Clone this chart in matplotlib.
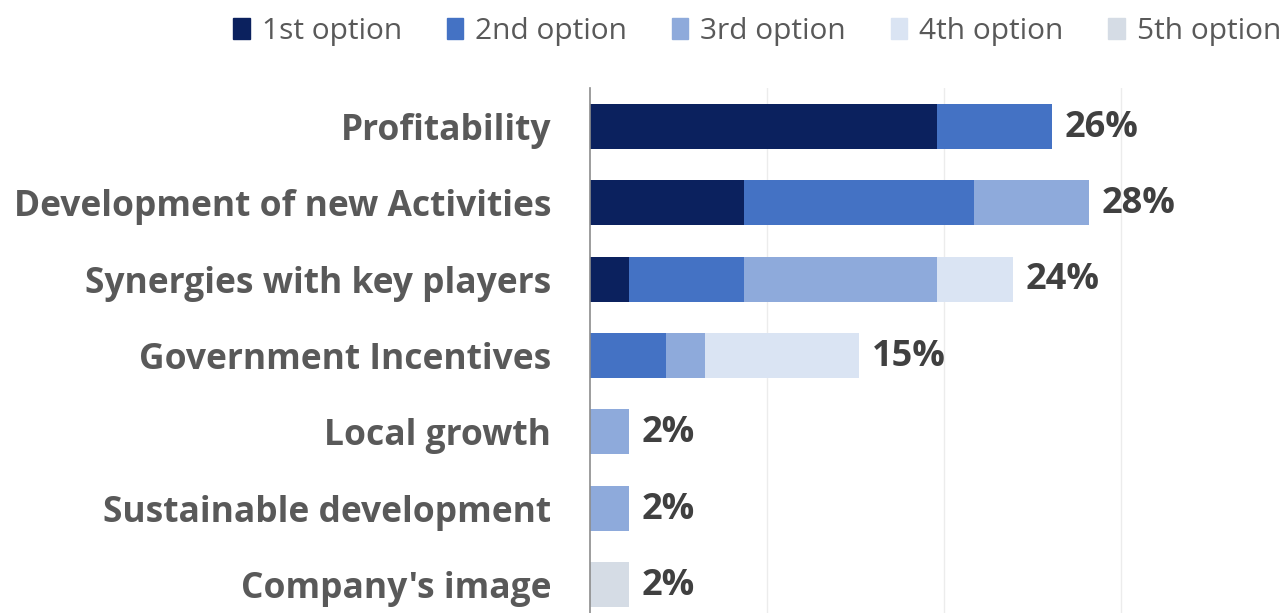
import matplotlib.pyplot as plt
import matplotlib.patches as mpatches
import numpy as np

# survey answers, share of respondents (%) per ranking position
factors = ["Profitability", "Development of new Activities", "Synergies with key players",
           "Government Incentives", "Local growth", "Sustainable development", "Company's image"]
first = [19.6, 8.7, 2.2, 0, 0, 0, 0]
second = [6.5, 13.0, 6.5, 4.3, 0, 0, 0]
third = [0, 6.5, 10.9, 2.2, 2.2, 2.2, 0]
fourth = [0, 0, 4.3, 8.7, 0, 0, 0]
fifth = [0, 0, 0, 0, 0, 0, 2.2]

option_names = ["1st option", "2nd option", "3rd option", "4th option", "5th option"]
option_colors = ["#0b215e", "#4472c4", "#8eaadb", "#dae4f3", "#d5dce5"]

plt.rcParams['font.family'] = ['Open Sans', 'DejaVu Sans']

fig = plt.figure(figsize=(12.86, 6.13), dpi=100)
ax = fig.add_axes([590 / 1286, 0, 1 - 590 / 1286, 1 - 88 / 613])

y = np.arange(len(factors))
left = np.zeros(len(factors))
for vals, col in zip([first, second, third, fourth, fifth], option_colors):
    ax.barh(y, vals, left=left, height=0.59, color=col, zorder=2)
    left += np.array(vals)

# total on the end of each bar
for yi, tot in zip(y, left):
    ax.annotate("%d%%" % round(tot), xy=(tot, yi), xytext=(9, -1), textcoords='offset points',
                ha='left', va='center', fontsize=26, fontweight='bold', color='#404040')

ax.set_xlim(0, 39.3)
ax.set_ylim(6.37, -0.5)
ax.set_xticks([10, 20, 30])
ax.xaxis.grid(True, color='#ececec', lw=1, zorder=0)
ax.tick_params(axis='x', length=0, labelbottom=False)
ax.set_yticks(y)
ax.set_yticklabels(factors, fontsize=25.5, fontweight='bold', color='#595959')
ax.tick_params(axis='y', length=0, pad=28)
for s in ['top', 'right', 'bottom']:
    ax.spines[s].set_visible(False)
ax.spines['left'].set_color('#8c8c8c')
ax.spines['left'].set_linewidth(1.2)

handles = [mpatches.Patch(color=c, label=n) for c, n in zip(option_colors, option_names)]
fig.legend(handles=handles, loc='upper right', bbox_to_anchor=(1.017, 1.016), ncol=5, frameon=False,
           fontsize=21.5, labelcolor='#595959', handlelength=0.55, handleheight=0.7,
           handletextpad=0.4, columnspacing=1.5)

fig.savefig("out.png", dpi=100)
